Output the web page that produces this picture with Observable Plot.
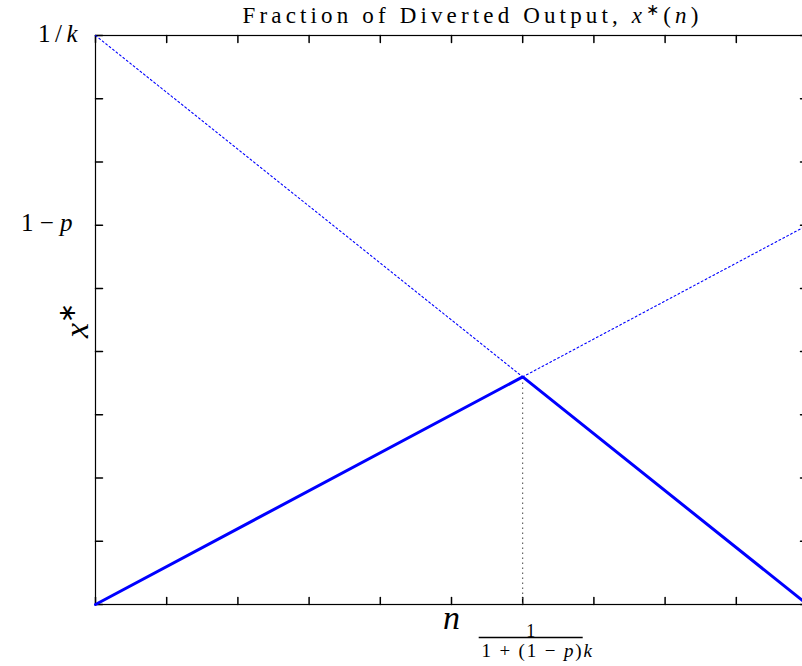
<!DOCTYPE html>
<html>
<head>
<meta charset="utf-8">
<script src="https://cdn.jsdelivr.net/npm/d3@7"></script>
<script src="https://cdn.jsdelivr.net/npm/@observablehq/plot@0.6"></script>
<style>
  html, body { margin: 0; padding: 0; background: #fff; overflow: hidden; }
</style>
</head>
<body>
<script>
// ---- data ----
const solidN = [0, 0.6, 1];          // n values of the solid x*(n) curve
const solidX = [0, 0.36, 0];         // x* values
const risingDotN = [0.6, 1];         // dotted continuation of the rising branch
const risingDotX = [0.36, 0.6];
const fallingDotN = [0, 0.6];        // dotted continuation of the falling branch
const fallingDotX = [0.9, 0.36];
const kinkN = [0.6];
const kinkX = [0.36];
const xMinorTicks = [0, 0.1, 0.2, 0.3, 0.4, 0.5, 0.6, 0.7, 0.8, 0.9, 1];
const yMinorTicks = [0, 0.1, 0.2, 0.3, 0.4, 0.5, 0.6, 0.7, 0.8, 0.9];
const yTickTop = [0.9];
const yTickTopLabel = ["1/<i>k</i>"];
const yTickMid = [0.6];
const yTickMidLabel = ["1 − <i>p</i>"];
const xFracNumerator = ["1"];
const xFracDenominator = ["1 + (1 − <i>p</i>)<i>k</i>"];
const xLabelPos = [0.5];
const titleText = ["Fraction of Diverted Output, <i>x</i><sup>∗</sup>(<i>n</i>)"];
const xLabel = ["<i>n</i>"];
const yLabel = ["<i>x</i><sup>∗</sup>"];

const zip = (a, b) => a.map((v, i) => ({n: v, x: b[i]}));
const solid = zip(solidN, solidX);
const risingDot = zip(risingDotN, risingDotX);
const fallingDot = zip(fallingDotN, fallingDotX);

const tickShape = {
  draw(context, l) { context.moveTo(0, 0); context.lineTo(0, -l); }
};
const FONT = "Liberation Serif";

const chart = Plot.plot({
  width: 802,
  height: 666,
  marginLeft: 95,
  marginRight: -5,
  marginTop: 35,
  marginBottom: 62,
  x: {domain: [0, 1], axis: null},
  y: {domain: [0, 0.9], axis: null},
  style: {fontFamily: FONT, background: "#fff", overflow: "hidden"},
  marks: [
    Plot.frame({stroke: "black", strokeWidth: 1.2}),
    // inward ticks on all four sides
    Plot.vector(xMinorTicks, {x: d => d, y: 0, length: 7, rotate: 0, anchor: "start", shape: tickShape, stroke: "black"}),
    Plot.vector(xMinorTicks, {x: d => d, y: 0.9, length: 7, rotate: 180, anchor: "start", shape: tickShape, stroke: "black"}),
    Plot.vector(yMinorTicks, {x: 0, y: d => d, length: 7, rotate: 90, anchor: "start", shape: tickShape, stroke: "black"}),
    Plot.vector(yMinorTicks, {x: 1, y: d => d, length: 7, rotate: 270, anchor: "start", shape: tickShape, stroke: "black"}),
    // dotted continuations
    Plot.line(fallingDot, {x: "n", y: "x", stroke: "blue", strokeWidth: 1.1, strokeDasharray: "1.8,2.6"}),
    Plot.line(risingDot, {x: "n", y: "x", stroke: "blue", strokeWidth: 1.1, strokeDasharray: "1.8,2.6"}),
    Plot.ruleX(kinkN, {x: d => d, y1: 0, y2: (d, i) => kinkX[i], stroke: "#444", strokeWidth: 1, strokeDasharray: "1.5,3.5"}),
    // solid curve
    Plot.line(solid, {x: "n", y: "x", stroke: "blue", strokeWidth: 3}),
    // y tick labels
    Plot.text(yTickTop, {y: d => d, text: (d, i) => yTickTopLabel[i], frameAnchor: "left", textAnchor: "end", lineAnchor: "bottom", dx: -18, dy: 6, fontSize: 25, fill: "black"}),
    Plot.text(yTickMid, {y: d => d, text: (d, i) => yTickMidLabel[i], frameAnchor: "left", textAnchor: "end", lineAnchor: "bottom", dx: -23, dy: 6, fontSize: 25, fill: "black"}),
    // x tick label (fraction)
    Plot.text(kinkN, {x: d => d, text: () => xFracNumerator[0], frameAnchor: "bottom", lineAnchor: "bottom", dx: 8, dy: 32, fontSize: 18, fill: "black"}),
    Plot.text(kinkN, {x: d => d, text: () => xFracDenominator[0], frameAnchor: "bottom", lineAnchor: "bottom", dx: 14, dy: 52, fontSize: 19, fill: "black"}),
    // axis labels
    Plot.text(xLabelPos, {x: d => d, text: () => xLabel[0], frameAnchor: "bottom", lineAnchor: "bottom", dy: 24, fontSize: 34, fill: "black"}),
    Plot.text(yLabel, {text: d => d, frameAnchor: "left", rotate: -90, lineAnchor: "bottom", dx: -8, dy: 18, fontSize: 34, fill: "black"}),
    // title
    Plot.text(titleText, {text: d => d, frameAnchor: "top", lineAnchor: "bottom", dx: 19, dy: -13, fontSize: 23, fill: "black"})
  ]
});

document.body.append(chart);

// render simple math markup as tspans
const svg = d3.select(chart);
let denomNode = null, numNode = null, titleNode = null, topLblNode = null;
svg.selectAll("text").each(function() {
  const t = this.textContent;
  if (t === xFracDenominator[0]) denomNode = this;
  if (t === titleText[0]) titleNode = this;
  if (t === yTickTopLabel[0]) topLblNode = this;
  if (t === xFracNumerator[0]) numNode = this;
  if (t.includes("<")) {
    this.innerHTML = t
      .replace(/<i>(.*?)<\/i>/g, '<tspan font-style="italic">$1</tspan>')
      .replace(/<sup>(.*?)<\/sup>/g, '<tspan baseline-shift="super" font-size="70%">$1</tspan>');
  }
});
// widen spacing to mimic the Computer Modern rendering
function spreadTo(node, target) {
  if (!node) return;
  const w = node.getBBox().width;
  const n = node.textContent.length;
  const ls = (target - w) / n;
  node.setAttribute("letter-spacing", ls);
  const anchor = node.getAttribute("text-anchor") || (node.parentNode && node.parentNode.getAttribute("text-anchor"));
  if (anchor === "middle" || anchor === null) node.setAttribute("dx", ((+node.getAttribute("dx") || 0) + ls / 2));
  if (anchor === "end") node.setAttribute("dx", ((+node.getAttribute("dx") || 0) + ls));
}
spreadTo(titleNode, 460);
spreadTo(denomNode, 113);
spreadTo(topLblNode, 45);

// fraction bar for the x tick label
if (denomNode && numNode) {
  const bn = numNode.getBBox();
  const cx = bn.x + bn.width / 2;
  const half = 52;
  const y = bn.y + bn.height - 3;
  const ctm = numNode.getCTM();
  const g = svg.append("g");
  if (ctm) g.attr("transform", `matrix(${ctm.a},${ctm.b},${ctm.c},${ctm.d},${ctm.e},${ctm.f})`);
  g.append("line")
    .attr("x1", cx - half).attr("x2", cx + half)
    .attr("y1", y).attr("y2", y)
    .attr("stroke", "black").attr("stroke-width", 1.6);
}
</script>
</body>
</html>
